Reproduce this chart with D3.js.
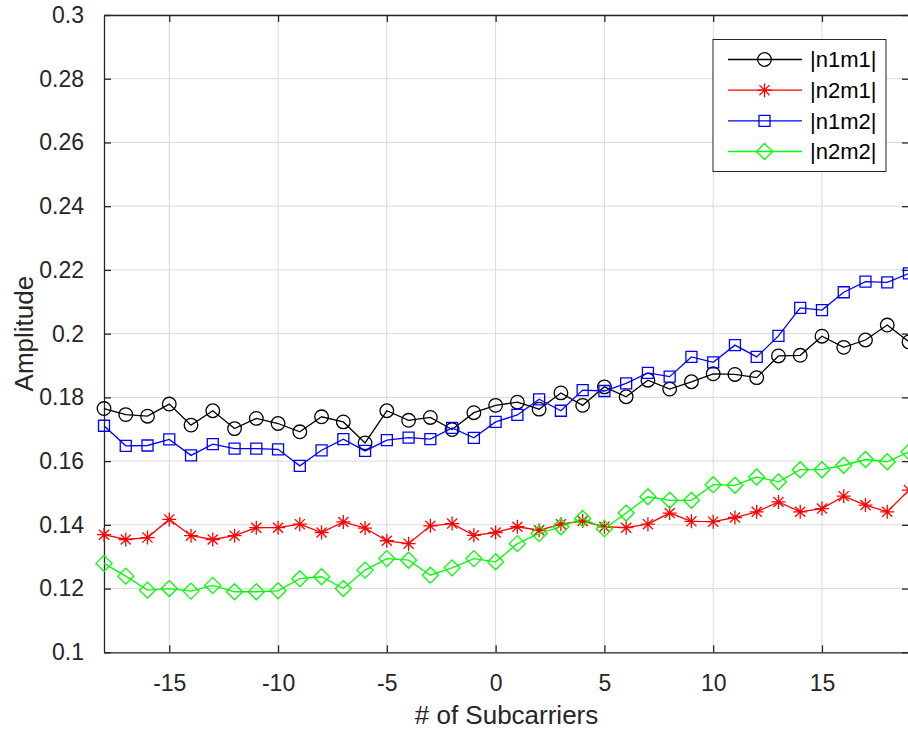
<!DOCTYPE html>
<html>
<head>
<meta charset="utf-8">
<script src="https://cdn.jsdelivr.net/npm/d3@7"></script>
<style>
  html, body { margin: 0; padding: 0; background: #fff; }
  svg { display: block; font-family: "Liberation Sans", Arial, Helvetica, sans-serif; }
</style>
</head>
<body>
<svg id="chart" width="908" height="734"></svg>
<script>
// Subcarrier indices
const subcarriers = d3.range(-18, 20);

// Channel amplitude per subcarrier
const n1m1 = [0.1765, 0.1746, 0.1741, 0.1779, 0.1713, 0.1758, 0.1702, 0.1734, 0.1718, 0.1692,
              0.1739, 0.1723, 0.1657, 0.1758, 0.1728, 0.1737, 0.1699, 0.1752, 0.1775, 0.1785,
              0.1763, 0.1814, 0.1775, 0.1833, 0.1802, 0.1854, 0.1826, 0.1849, 0.1874, 0.1872,
              0.1862, 0.1930, 0.1932, 0.1992, 0.1957, 0.1980, 0.2027, 0.1974];
const n2m1 = [0.1369, 0.1354, 0.1360, 0.1417, 0.1366, 0.1354, 0.1366, 0.1391, 0.1391, 0.1402,
              0.1376, 0.1409, 0.1390, 0.1350, 0.1341, 0.1397, 0.1404, 0.1367, 0.1376, 0.1394,
              0.1383, 0.1402, 0.1412, 0.1394, 0.1391, 0.1402, 0.1437, 0.1411, 0.1410, 0.1423,
              0.1441, 0.1472, 0.1441, 0.1451, 0.1490, 0.1462, 0.1441, 0.1509];
const n1m2 = [0.1711, 0.1648, 0.1649, 0.1668, 0.1618, 0.1653, 0.1639, 0.1639, 0.1637, 0.1585,
              0.1634, 0.1669, 0.1632, 0.1666, 0.1674, 0.1669, 0.1704, 0.1673, 0.1723, 0.1745,
              0.1794, 0.1758, 0.1823, 0.1820, 0.1844, 0.1877, 0.1865, 0.1927, 0.1910, 0.1964,
              0.1927, 0.1993, 0.2081, 0.2074, 0.2130, 0.2163, 0.2161, 0.2189];
const n2m2 = [0.1279, 0.1239, 0.1195, 0.1200, 0.1192, 0.1210, 0.1190, 0.1190, 0.1193, 0.1231,
              0.1237, 0.1200, 0.1258, 0.1294, 0.1289, 0.1242, 0.1265, 0.1294, 0.1284, 0.1341,
              0.1373, 0.1394, 0.1420, 0.1388, 0.1437, 0.1488, 0.1477, 0.1477, 0.1526, 0.1524,
              0.1550, 0.1535, 0.1573, 0.1573, 0.1587, 0.1605, 0.1598, 0.1629];

const seriesNames = ["|n1m1|", "|n2m1|", "|n1m2|", "|n2m2|"];
const seriesColors = ["#000000", "#ff0000", "#0000ff", "#00ff00"];
const seriesMarkers = ["circle", "star", "square", "diamond"];

const xTicks = [-15, -10, -5, 0, 5, 10, 15];
const yTicks = [0.1, 0.12, 0.14, 0.16, 0.18, 0.2, 0.22, 0.24, 0.26, 0.28, 0.3];

const seriesValues = [n1m1, n2m1, n1m2, n2m2];

// Plot box
const plotLeft = 104, plotRight = 909, plotTop = 15, plotBottom = 652.3;
const axisColor = "#262626";
const gridColor = "#d9d9d9";

const svg = d3.select("#chart");

const x = d3.scaleLinear().domain([-18, 19]).range([plotLeft, plotRight]);
const y = d3.scaleLinear().domain([0.1, 0.3]).range([plotBottom, plotTop]);

// Grid
const grid = svg.append("g");
grid.selectAll("line.gx").data(xTicks).join("line")
  .attr("class", "gx")
  .attr("x1", d => x(d)).attr("x2", d => x(d))
  .attr("y1", plotTop).attr("y2", plotBottom)
  .attr("stroke", gridColor).attr("stroke-width", 1);
grid.selectAll("line.gy").data(yTicks).join("line")
  .attr("class", "gy")
  .attr("x1", plotLeft).attr("x2", plotRight)
  .attr("y1", d => y(d)).attr("y2", d => y(d))
  .attr("stroke", gridColor).attr("stroke-width", 1);

// Axes (ticks point inward)
const tickLen = 7;
const fmtY = d => String(+d.toFixed(2));
const fmtX = d => String(d); // plain hyphen-minus

const xAxis = d3.axisBottom(x).tickValues(xTicks).tickSizeInner(-tickLen).tickSizeOuter(0)
  .tickPadding(22).tickFormat(fmtX);
const yAxis = d3.axisLeft(y).tickValues(yTicks).tickSizeInner(-tickLen).tickSizeOuter(0)
  .tickPadding(20).tickFormat(fmtY);
const xTop = d3.axisTop(x).tickValues(xTicks).tickSizeInner(-tickLen).tickSizeOuter(0).tickFormat("");
const yRight = d3.axisRight(y).tickValues(yTicks).tickSizeInner(-tickLen).tickSizeOuter(0).tickFormat("");

function styleAxis(g) {
  g.select(".domain").attr("stroke", axisColor).attr("stroke-width", 1.3);
  g.selectAll(".tick line").attr("stroke", axisColor).attr("stroke-width", 1.3);
  g.selectAll(".tick text").attr("fill", axisColor)
    .style("font-size", "23px")
    .style("font-family", "'Liberation Sans', Arial, Helvetica, sans-serif");
}

svg.append("g").attr("transform", `translate(0,${plotBottom})`).call(xAxis).call(styleAxis);
svg.append("g").attr("transform", `translate(${plotLeft},0)`).call(yAxis).call(styleAxis);
svg.append("g").attr("transform", `translate(0,${plotTop})`).call(xTop).call(styleAxis);
svg.append("g").attr("transform", `translate(${plotRight},0)`).call(yRight).call(styleAxis);

// Axis titles
svg.append("text")
  .attr("x", (plotLeft + plotRight) / 2).attr("y", 724)
  .attr("text-anchor", "middle")
  .attr("fill", axisColor)
  .style("font-size", "26px")
  .text("# of Subcarriers");
svg.append("text")
  .attr("transform", `translate(33,${(plotTop + plotBottom) / 2}) rotate(-90)`)
  .attr("text-anchor", "middle")
  .attr("fill", axisColor)
  .style("font-size", "26px")
  .text("Amplitude");

// Marker shapes
function markerPath(type) {
  switch (type) {
    case "square": { const h = 5.5; return `M${-h},${-h}H${h}V${h}H${-h}Z`; }
    case "diamond": { const h = 8; return `M0,${-h}L${h},0L0,${h}L${-h},0Z`; }
    case "star": {
      const r = 7, d = r * 0.72;
      return `M0,${-r}V${r}M${-r},0H${r}M${-d},${-d}L${d},${d}M${-d},${d}L${d},${-d}`;
    }
    default: { const r = 6.8; return `M${r},0A${r},${r} 0 1,1 ${-r},0A${r},${r} 0 1,1 ${r},0Z`; }
  }
}

const line = d3.line().x((d, i) => x(subcarriers[i])).y(d => y(d));

seriesValues.forEach((vals, k) => {
  const g = svg.append("g");
  g.append("path")
    .attr("d", line(vals))
    .attr("fill", "none")
    .attr("stroke", seriesColors[k])
    .attr("stroke-width", 1.3);
  g.selectAll("path.m").data(vals).join("path")
    .attr("class", "m")
    .attr("transform", (d, i) => `translate(${x(subcarriers[i])},${y(d)})`)
    .attr("d", markerPath(seriesMarkers[k]))
    .attr("fill", "none")
    .attr("stroke", seriesColors[k])
    .attr("stroke-width", 1.3);
});

// Legend
const lg = svg.append("g");
lg.append("rect")
  .attr("x", 713).attr("y", 39.5).attr("width", 173).attr("height", 132)
  .attr("fill", "#fff").attr("stroke", axisColor).attr("stroke-width", 1);
const rowY = d3.scaleLinear().domain([0, 3]).range([59.5, 151.5]);
seriesNames.forEach((name, k) => {
  const yy = rowY(k);
  lg.append("line").attr("x1", 728).attr("x2", 802).attr("y1", yy).attr("y2", yy)
    .attr("stroke", seriesColors[k]).attr("stroke-width", 1.3);
  lg.append("path").attr("transform", `translate(764.5,${yy})`)
    .attr("d", markerPath(seriesMarkers[k]))
    .attr("fill", "none").attr("stroke", seriesColors[k]).attr("stroke-width", 1.3);
  lg.append("text").attr("x", 810).attr("y", yy).attr("dy", "0.36em")
    .attr("fill", "#000").style("font-size", "22px").text(name);
});
</script>
</body>
</html>
